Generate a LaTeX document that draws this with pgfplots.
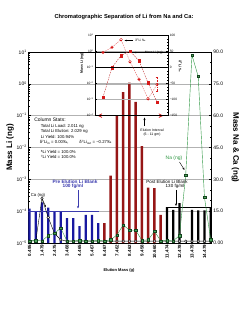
\documentclass[border=0pt]{standalone}
\usepackage{fontspec}
\setmainfont{Liberation Sans}
\usepackage{pgfplots}
\pgfplotsset{compat=1.18}
\usetikzlibrary{arrows.meta}
\definecolor{barblue}{RGB}{24,24,160}
\definecolor{barred}{RGB}{150,22,22}
\definecolor{nagreen}{RGB}{46,150,66}
\definecolor{ired}{RGB}{215,25,25}
\newcommand{\fsz}[1]{\fontsize{#1}{#1}\selectfont}
\begin{document}
\begin{tikzpicture}[x=1pt,y=1pt]
\useasboundingbox (0,0) rectangle (480,642);
% ---------------- main axis (Li, log) ----------------
\begin{axis}[
  at={(56.5pt,156pt)}, anchor=south west, scale only axis,
  width=366.8pt, height=382pt,
  xmin=-0.2, xmax=29.15,
  ymode=log, ymin=1e-5, ymax=10, log origin y=infty,
  xtick={0,2,...,28},
  xticklabels={0.495,1.479,2.475,3.468,4.465,5.467,6.467,7.462,8.462,9.458,10.660,11.474,12.478,13.479,14.479},
  minor xtick={1,3,...,29},
  xtick pos=bottom,
  x tick label style={rotate=90, anchor=east, font=\fsz{9}\bfseries},
  ytick={1e-5,1e-4,1e-3,1e-2,1e-1,1,10},
  yticklabels={10\textsuperscript{−5},10\textsuperscript{−4},10\textsuperscript{−3},10\textsuperscript{−2},10\textsuperscript{−1},10\textsuperscript{0},10\textsuperscript{1}},
  minor ytick={2e-5,3e-5,4e-5,5e-5,6e-5,7e-5,8e-5,9e-5,2e-4,3e-4,4e-4,5e-4,6e-4,7e-4,8e-4,9e-4,2e-3,3e-3,4e-3,5e-3,6e-3,7e-3,8e-3,9e-3,2e-2,3e-2,4e-2,5e-2,6e-2,7e-2,8e-2,9e-2,0.2,0.3,0.4,0.5,0.6,0.7,0.8,0.9,2,3,4,5,6,7,8,9},
  ytick pos=left,
  y tick label style={font=\fsz{10}},
  tick align=inside,
  major tick length=5pt, minor tick length=3pt,
  tick style={black, line width=0.8pt},
  ymajorgrids, major grid style={gray!60, line width=0.8pt},
  axis line style={line width=1.2pt},
]
% pre-elution blank fractions
\addplot[ybar, bar width=0.36, bar shift=0pt, fill=barblue, draw=none] coordinates {
 (0,1.21e-4) (1,9.5e-5) (2,1.9e-4) (3,1.3e-4) (4,9.5e-5) (5,9.5e-5)
 (6,6.0e-5) (7,6.0e-5) (8,3.4e-5) (9,7.6e-5) (10,7.6e-5) (11,4.2e-5)};
% elution fractions
\addplot[ybar, bar width=0.4, bar shift=0pt, fill=barred, draw=none] coordinates {
 (12,4.2e-5) (13,1.3e-3) (14,0.1) (15,0.55) (16,1.1) (17,0.27)
 (18,0.011) (19,5.5e-4) (20,5.3e-4) (21,7.6e-5)};
% post-elution blank fractions
\addplot[ybar, bar width=0.36, bar shift=0pt, fill=black, draw=none] coordinates {
 (22,1.35e-4) (23,1.1e-4) (24,1.8e-4) (26,1.1e-4) (27,1.05e-4) (28,1.05e-4) (29,1.35e-4)};
% blank levels
\addplot[barblue!85, line width=1pt] coordinates {(-0.2,1e-4) (11.2,1e-4)};
\addplot[black, line width=1.4pt] coordinates {(22,1.3e-4) (29,1.3e-4)};
% elution interval
\draw[ired, line width=2.2pt, {Stealth[length=9pt,width=9pt]}-{Stealth[length=9pt,width=9pt]}] (axis cs:10.9,0.1) -- (axis cs:21.4,0.1);
\end{axis}
% ---------------- secondary axis (Na, Ca, linear) ----------------
\begin{axis}[
  at={(56.5pt,156pt)}, anchor=south west, scale only axis,
  width=366.8pt, height=382pt,
  xmin=-0.2, xmax=29.15,
  ymin=0, ymax=90,
  axis x line=none, axis y line*=right,
  ytick={0,15,...,90},
  yticklabels={0.00,15.0,30.0,45.0,60.0,75.0,90.0},
  minor y tick num=2,
  y tick label style={font=\fsz{10}},
  tick align=inside,
  major tick length=5pt, minor tick length=3pt,
  tick style={black, line width=0.8pt},
  axis line style={line width=1.2pt},
]
% Ca (ng)
\addplot[black, line width=0.8pt, mark=*, mark size=2.6pt, mark options={fill=white, draw=black, line width=0.7pt}] coordinates {
 (0,0.9) (1,1) (2,21) (3,12) (4,4.5) (5,1.5) (6,0.9) (7,0.9) (8,0.9) (9,0.9)
 (10,0.9) (11,0.9) (12,0.9) (13,0.9) (14,0.9) (15,0.9) (16,0.9) (17,0.9) (18,0.9) (19,0.9)
 (20,0.9) (21,0.9) (22,0.9) (23,0.9) (24,0.9) (25,0.9) (26,0.9) (27,0.9) (28,0.9) (29,0.9)};
% Na (ng)
\addplot[nagreen, line width=0.8pt, mark=square*, mark size=2.4pt, mark options={fill=nagreen!85, draw=nagreen!45!black, line width=0.5pt}] coordinates {
 (0,1) (1,1.2) (2,1) (3,3.5) (4,4.6) (5,7) (6,1) (7,1) (8,1.2) (9,1)
 (10,1) (11,1.2) (12,1) (13,1.5) (14,3.8) (15,8.5) (16,6) (17,6) (18,1.2) (19,1.5)
 (20,5.5) (21,1) (22,1.2) (23,1) (24,3.5) (25,32) (26,88.5) (27,78.5) (28,21.5) (29,1.5)};
\end{axis}
% ---------------- inset: Li mass ----------------
\begin{axis}[
  at={(190pt,411pt)}, anchor=south west, scale only axis,
  width=146pt, height=160pt,
  xmin=0.111, xmax=8.22, xtick=\empty,
  ymode=log, ymin=1e-4, ymax=10,
  ytick={1e-4,1e-3,1e-2,1e-1,1,10},
  yticklabels={10\textsuperscript{−4},10\textsuperscript{−3},10\textsuperscript{−2},10\textsuperscript{−1},10\textsuperscript{0},10\textsuperscript{1}},
  minor ytick={2e-4,3e-4,4e-4,5e-4,6e-4,7e-4,8e-4,9e-4,2e-3,3e-3,4e-3,5e-3,6e-3,7e-3,8e-3,9e-3,2e-2,3e-2,4e-2,5e-2,6e-2,7e-2,8e-2,9e-2,0.2,0.3,0.4,0.5,0.6,0.7,0.8,0.9,2,3,4,5,6,7,8,9},
  ytick pos=left,
  y tick label style={font=\fsz{6.5}},
  tick align=inside,
  major tick length=4pt, minor tick length=2.5pt,
  tick style={black, line width=0.6pt},
  ymajorgrids, major grid style={gray!60, line width=0.8pt},
  axis line style={line width=1pt},
]
\addplot[ired!85!black, densely dashed, line width=0.7pt, mark=square*, mark size=2.6pt, mark options={solid, fill=ired, draw=ired}] coordinates {
 (1,1.4e-3) (2,0.1) (3,0.56) (4,1.07) (5,0.26) (6,0.011) (7,6.8e-4)};
\end{axis}
% ---------------- inset: delta 7Li ----------------
\begin{axis}[
  at={(190pt,411pt)}, anchor=south west, scale only axis,
  width=146pt, height=160pt,
  xmin=0.111, xmax=8.22,
  ymin=-150, ymax=100,
  axis x line=none, axis y line*=right,
  ytick={-150,-100,-50,0,50,100},
  yticklabels={−150,−100,−50,0,50,100},
  y tick label style={font=\fsz{6.5}},
  tick align=inside,
  major tick length=4pt, minor tick length=2.5pt,
  minor y tick num=4,
  tick style={black, line width=0.6pt},
  axis line style={line width=1pt},
]
\addplot[black, line width=1.5pt] coordinates {(0.111,0) (8.22,0)};
\addplot[ired!75, densely dashed, line width=0.7pt, mark=o, mark size=2.8pt,
  mark options={solid, draw=ired, fill=white, line width=0.7pt},
  error bars/.cd, y dir=both, y explicit, error bar style={ired, densely dashed, line width=0.7pt}] coordinates {
 (1,47) +- (0,0) (2,63) +- (0,0) (3,87) +- (0,0) (4,18) +- (0,0) (5,-37) +- (0,0) (6,-98) +- (0,0) (7,-53) +- (0,22)};
\end{axis}
% ---------------- texts ----------------
\node[font=\fsz{11.5}\bfseries] at (248,608) {Chromatographic Separation of Li from Na and Ca:};
\node[font=\fsz{16}\bfseries, rotate=90] at (20,347) {Mass Li (ng)};
\node[font=\fsz{16}\bfseries, rotate=-90] at (471,347) {Mass Na \& Ca (ng)};
\node[font=\fsz{8}\bfseries] at (238,102) {Elution Mass (g)};
% inset labels
\node[font=\fsz{7}\bfseries, rotate=90] at (164,515) {Mass Li (ng)};
\node[font=\fsz{7}\bfseries, rotate=-90] at (361,510) {δ\textsuperscript{7}Li ‰};
\draw[-{Stealth[length=4pt,width=3pt]}, line width=0.6pt] (266,561) -- (249,561);
\node[font=\fsz{6.5}, anchor=west] at (267,561) {δ\textsuperscript{7}Li ‰};
\draw[-{Stealth[length=4pt,width=3pt]}, line width=0.6pt] (285,537) -- (268,537);
\node[font=\fsz{6.5}, anchor=west] at (286,537) {Mass Li (ng)};
% elution interval
\draw[-{Stealth[length=5pt,width=4pt]}, line width=0.7pt] (289,390) -- (289,407);
\node[font=\fsz{7}] at (304,382) {Elution Interval};
\node[font=\fsz{7}] at (304,372) {(6 - 11 gm)};
% column stats
\node[font=\fsz{10}, anchor=west] at (65,402) {Column Stats:};
\node[font=\fsz{8.5}, anchor=west] at (78,389) {Total Li Load: 2.011 ng};
\node[font=\fsz{8.5}, anchor=west] at (78,379) {Total Li Elution: 2.029 ng};
\node[font=\fsz{8.5}, anchor=west] at (78,368) {Li Yield: 100.94\%};
\node[font=\fsz{8.5}, anchor=west] at (76,357) {δ\textsuperscript{7}Li\textsubscript{in} = 0.00‰,\hspace{22pt}δ\textsuperscript{7}Li\textsubscript{out} = −0.27‰};
\node[font=\fsz{8.5}, anchor=west] at (78,338) {\textsuperscript{6}Li Yield = 100.0\%};
\node[font=\fsz{8.5}, anchor=west] at (78,328) {\textsuperscript{7}Li Yield = 100.0\%};
% blanks
\node[font=\fsz{9.5}\bfseries, text=barblue!85] at (150,279) {Pre Elution Li Blank};
\node[font=\fsz{9.5}\bfseries, text=barblue!85] at (146,269) {100 fg/ml};
\draw[barblue!85, -{Stealth[length=5pt,width=4pt]}, line width=0.8pt] (156,262) -- (156,225);
\node[font=\fsz{9}] at (334,279) {Post Elution Li Blank};
\node[font=\fsz{9}] at (350,269) {130 fg/ml};
\draw[-{Stealth[length=5pt,width=4pt]}, line width=0.8pt] (352,262) -- (352,230);
% series labels
\node[font=\fsz{10}, text=nagreen] at (348,325) {Na (ng)};
\draw[-{Stealth[length=5pt,width=4pt]}, line width=0.8pt] (359,318) -- (369,302);
\node[font=\fsz{8.5}] at (76,251) {Ca (ng)};
\draw[-{Stealth[length=4pt,width=3pt]}, line width=0.7pt] (84,245) -- (92,228);
\end{tikzpicture}
\end{document}
